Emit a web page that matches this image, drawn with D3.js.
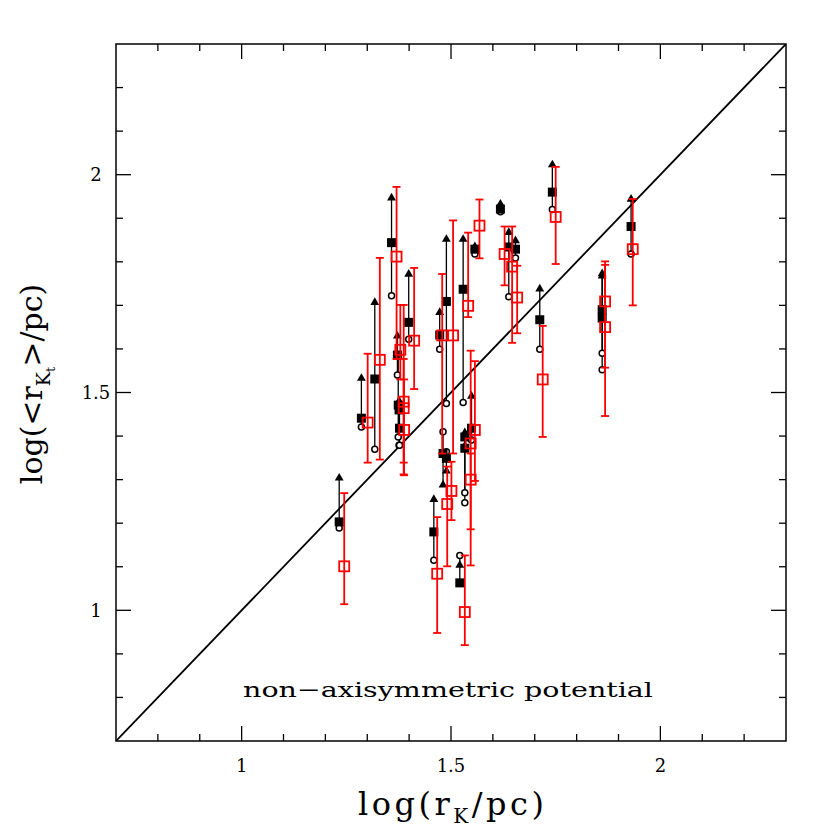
<!DOCTYPE html>
<html lang="en">
<head>
  <meta charset="UTF-8">
  <title>log r_K vs log r_Kt</title>
  <script src="https://d3js.org/d3.v7.min.js"></script>
  <style>
    body { margin: 0; background: #fff; }
    svg { display: block; }
    .lbl { font-family: "DejaVu Serif", serif; fill: #000; }
  </style>
</head>
<body>
  <div id="chart"></div>
  <script>
    // black: one object per index (circle, filled square, triangle, joined by a line)
    const blackX  = [1.233, 1.286, 1.318, 1.358, 1.372, 1.374, 1.376, 1.377, 1.399, 1.459, 1.473, 1.489, 1.489, 1.481,
                     1.529, 1.557, 1.549, 1.533, 1.533, 1.521, 1.618, 1.638, 1.654, 1.712, 1.742, 1.861, 1.861, 1.930];
    const circY   = [1.189, 1.421, 1.370, 1.722, 1.540, 1.398, 1.379, 1.379, 1.622, 1.115, 1.599, 1.475, 1.364, 1.410,
                     1.477, 1.818, 1.391, 1.270, 1.247, 1.126, 1.915, 1.720, 1.809, 1.599, 1.920, 1.590, 1.552, 1.818];
    const squareY = [1.203, 1.441, 1.531, 1.844, 1.586, 1.471, 1.460, 1.418, 1.661, 1.180, 1.632, 1.709, 1.349, 1.360,
                     1.737, 1.829, 1.418, 1.398, 1.372, 1.063, 1.921, 1.834, 1.829, 1.667, 1.960, 1.690, 1.671, 1.881];
    const triY    = [1.306, 1.535, 1.709, 1.949, 1.632, 1.586, 1.483, 1.460, 1.774, 1.257, 1.686, 1.854, 1.322, 1.290,
                     1.854, 1.837, 1.494, 1.410, 1.380, 1.106, 1.935, 1.870, 1.851, 1.740, 2.025, 1.775, 1.770, 1.946];

    // red: open squares with error bars
    const redX  = [1.245, 1.301, 1.330, 1.370, 1.379, 1.387, 1.387, 1.388, 1.412, 1.467, 1.479, 1.505, 1.501, 1.491,
                   1.541, 1.568, 1.557, 1.547, 1.547, 1.533, 1.628, 1.646, 1.658, 1.719, 1.750, 1.868, 1.868, 1.934];
    const redY  = [1.101, 1.431, 1.575, 1.812, 1.598, 1.479, 1.464, 1.414, 1.619, 1.084, 1.631, 1.631, 1.274, 1.244,
                   1.699, 1.883, 1.414, 1.383, 1.300, 0.996, 1.818, 1.789, 1.718, 1.530, 1.903, 1.709, 1.650, 1.829];
    const redLo = [1.014, 1.339, 1.346, 1.577, 1.530, 1.339, 1.312, 1.310, 1.508, 0.948, 1.360, 1.360, 1.207, 1.101,
                   1.673, 1.808, 1.297, 1.186, 1.103, 0.920, 1.746, 1.614, 1.636, 1.398, 1.795, 1.557, 1.446, 1.700];
    const redHi = [1.269, 1.589, 1.809, 1.972, 1.701, 1.701, 1.577, 1.530, 1.786, 1.214, 1.772, 1.895, 1.341, 1.330,
                   1.867, 1.943, 1.572, 1.596, 1.360, 1.126, 1.881, 1.881, 1.791, 1.653, 2.018, 1.801, 1.793, 1.944];

    const majorTicks = [1, 1.5, 2];
    const tickLabels = ["1", "1.5", "2"];

    const W = 830, H = 830;
    const margin = { left: 116, right: 44, top: 44, bottom: 89 };

    const svg = d3.select("#chart").append("svg")
      .attr("width", W).attr("height", H);

    const x = d3.scaleLinear().domain([0.7, 2.3]).range([margin.left, W - margin.right]);
    const y = d3.scaleLinear().domain([0.7, 2.3]).range([H - margin.bottom, margin.top]);

    const x0 = x.range()[0], x1 = x.range()[1];
    const y0 = y.range()[0], y1 = y.range()[1];

    svg.append("clipPath").attr("id", "clip")
      .append("rect").attr("x", x0).attr("y", y1).attr("width", x1 - x0).attr("height", y0 - y1);

    // frame
    svg.append("rect")
      .attr("x", x0).attr("y", y1).attr("width", x1 - x0).attr("height", y0 - y1)
      .attr("fill", "none").attr("stroke", "#000").attr("stroke-width", 1.5);

    // ticks on all four sides, pointing inward
    const minor = d3.range(0.8, 2.3, 0.1).map(v => +v.toFixed(2));
    const tickLen = v => (majorTicks.some(m => Math.abs(m - v) < 1e-6) ? 15 : 7);
    const tg = svg.append("g").attr("stroke", "#000").attr("stroke-width", 1.3);
    minor.forEach(v => {
      const L = tickLen(v);
      tg.append("line").attr("x1", x(v)).attr("x2", x(v)).attr("y1", y0).attr("y2", y0 - L);
      tg.append("line").attr("x1", x(v)).attr("x2", x(v)).attr("y1", y1).attr("y2", y1 + L);
      tg.append("line").attr("y1", y(v)).attr("y2", y(v)).attr("x1", x0).attr("x2", x0 + L);
      tg.append("line").attr("y1", y(v)).attr("y2", y(v)).attr("x1", x1).attr("x2", x1 - L);
    });

    majorTicks.forEach((v, i) => {
      svg.append("text").attr("class", "lbl")
        .attr("x", x(v)).attr("y", y0 + 31)
        .attr("text-anchor", "middle").attr("font-size", 18)
        .text(tickLabels[i]);
      svg.append("text").attr("class", "lbl")
        .attr("x", x0 - 20).attr("y", y(v) + 6.5)
        .attr("text-anchor", "middle").attr("font-size", 18)
        .text(tickLabels[i]);
    });

    // y = x line
    svg.append("line").attr("clip-path", "url(#clip)")
      .attr("x1", x(0.7)).attr("y1", y(0.7)).attr("x2", x(2.3)).attr("y2", y(2.3))
      .attr("stroke", "#000").attr("stroke-width", 1.8);

    const idx = d3.range(blackX.length);
    const plot = svg.append("g").attr("clip-path", "url(#clip)");

    // black connecting lines
    plot.append("g").selectAll("line").data(idx).join("line")
      .attr("x1", i => x(blackX[i])).attr("x2", i => x(blackX[i]))
      .attr("y1", i => y(Math.min(circY[i], squareY[i], triY[i])))
      .attr("y2", i => y(Math.max(circY[i], squareY[i], triY[i])))
      .attr("stroke", "#000").attr("stroke-width", 1.3);

    plot.append("g").selectAll("circle").data(idx).join("circle")
      .attr("cx", i => x(blackX[i])).attr("cy", i => y(circY[i])).attr("r", 3)
      .attr("fill", "#fff").attr("stroke", "#000").attr("stroke-width", 1.5);

    plot.append("g").selectAll("path").data(idx).join("path")
      .attr("transform", i => `translate(${x(blackX[i])},${y(triY[i]) + 1})`)
      .attr("d", d3.symbol(d3.symbolTriangle, 34))
      .attr("fill", "#000");

    plot.append("g").selectAll("rect").data(idx).join("rect")
      .attr("x", i => x(blackX[i]) - 4.5).attr("y", i => y(squareY[i]) - 4.5)
      .attr("width", 9).attr("height", 9).attr("fill", "#000");

    // red error bars and open squares
    const red = plot.append("g").attr("stroke", "#f00").attr("stroke-width", 1.8).attr("fill", "none");
    idx.forEach(i => {
      const cx = x(redX[i]);
      red.append("line").attr("x1", cx).attr("x2", cx).attr("y1", y(redLo[i])).attr("y2", y(redHi[i]));
      red.append("line").attr("x1", cx - 4).attr("x2", cx + 4).attr("y1", y(redLo[i])).attr("y2", y(redLo[i]));
      red.append("line").attr("x1", cx - 4).attr("x2", cx + 4).attr("y1", y(redHi[i])).attr("y2", y(redHi[i]));
      red.append("rect").attr("x", cx - 5).attr("y", y(redY[i]) - 5).attr("width", 10).attr("height", 10);
    });

    svg.append("text").attr("class", "lbl")
      .attr("x", 448).attr("y", 697).attr("text-anchor", "middle")
      .attr("font-size", 21).attr("textLength", 410).attr("lengthAdjust", "spacingAndGlyphs")
      .text("non\u2212axisymmetric potential");

    // axis titles
    const xt = svg.append("text").attr("class", "lbl")
      .attr("x", 451).attr("y", 815).attr("text-anchor", "middle").attr("font-size", 32)
      .attr("textLength", 186).attr("lengthAdjust", "spacing");
    xt.append("tspan").text("log(r");
    xt.append("tspan").attr("font-size", 20).attr("dy", 8).text("K");
    xt.append("tspan").attr("dy", -8).text("/pc)");

    const yt = svg.append("text").attr("class", "lbl")
      .attr("transform", "translate(42,384) rotate(-90)")
      .attr("text-anchor", "middle").attr("font-size", 30);
    yt.append("tspan").text("log(<r");
    yt.append("tspan").attr("font-size", 19).attr("dy", 8).text("K");
    yt.append("tspan").attr("font-size", 13).attr("dy", 5).text("t");
    yt.append("tspan").attr("dy", -13).text(">/pc)");
  </script>
</body>
</html>
